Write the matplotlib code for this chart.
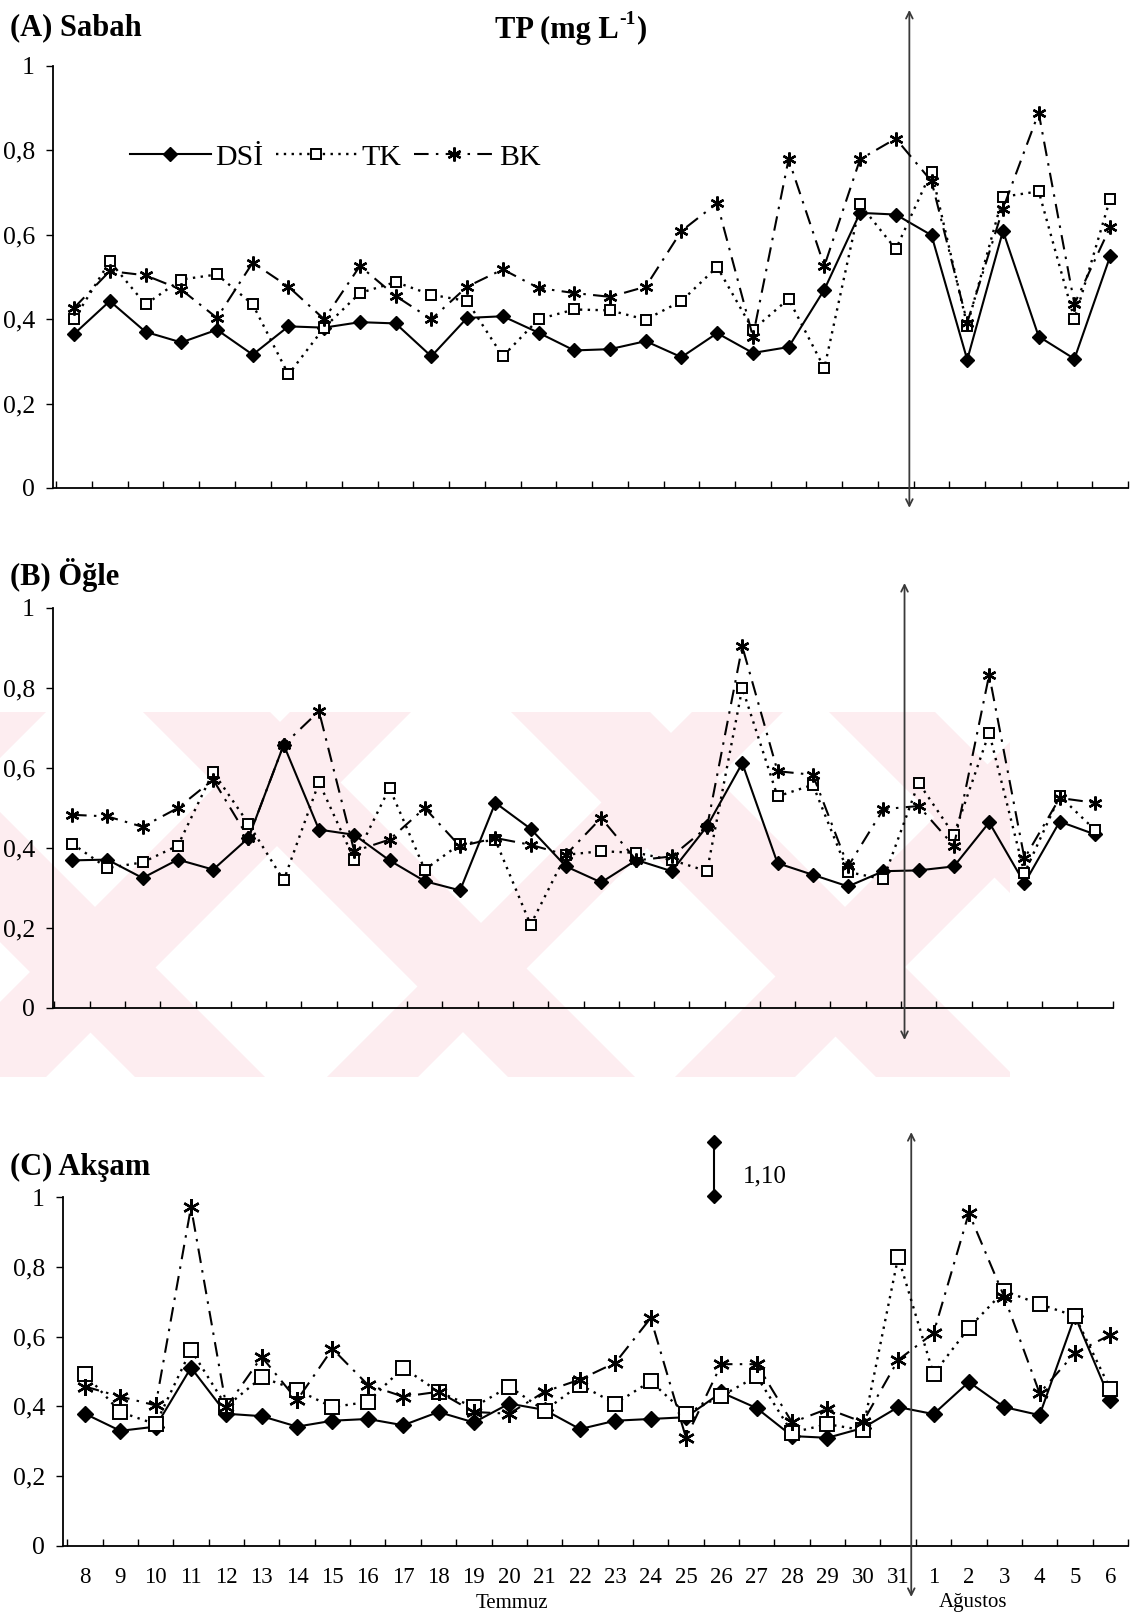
import numpy as np
import matplotlib
matplotlib.use('Agg')
import matplotlib.pyplot as plt
from matplotlib.patches import Polygon, Rectangle

plt.rcParams['font.family'] = ['Liberation Serif', 'DejaVu Serif']

# x categories: Temmuz 8-31, Agustos 1-6
days = ['8', '9', '10', '11', '12', '13', '14', '15', '16', '17', '18', '19', '20', '21',
        '22', '23', '24', '25', '26', '27', '28', '29', '30', '31', '1', '2', '3', '4', '5', '6']
y_ticks = [0, 0.2, 0.4, 0.6, 0.8, 1]
y_labels = ['0', '0,2', '0,4', '0,6', '0,8', '1']

# (A) Sabah
sabah_dsi = [0.365, 0.443, 0.370, 0.345, 0.375, 0.316, 0.383, 0.380, 0.393, 0.390, 0.312, 0.403, 0.407, 0.368,
             0.326, 0.329, 0.348, 0.310, 0.367, 0.320, 0.334, 0.470, 0.652, 0.648, 0.599, 0.304, 0.609, 0.359, 0.306, 0.549]
sabah_tk = [0.400, 0.537, 0.435, 0.494, 0.506, 0.435, 0.269, 0.380, 0.462, 0.488, 0.458, 0.443, 0.312, 0.400,
            0.423, 0.421, 0.399, 0.443, 0.524, 0.375, 0.448, 0.284, 0.672, 0.566, 0.750, 0.385, 0.690, 0.703, 0.400, 0.685]
sabah_bk = [0.427, 0.514, 0.504, 0.470, 0.403, 0.534, 0.477, 0.400, 0.526, 0.455, 0.400, 0.477, 0.518, 0.474,
            0.462, 0.453, 0.477, 0.609, 0.675, 0.359, 0.779, 0.526, 0.779, 0.828, 0.727, 0.392, 0.662, 0.889, 0.436, 0.618]

# (B) Ogle
ogle_dsi = [0.369, 0.371, 0.325, 0.371, 0.346, 0.425, 0.658, 0.446, 0.433, 0.369, 0.317, 0.294, 0.513, 0.448,
            0.354, 0.314, 0.370, 0.342, 0.454, 0.612, 0.362, 0.333, 0.304, 0.342, 0.344, 0.354, 0.464, 0.312, 0.466, 0.434]
ogle_tk = [0.411, 0.350, 0.364, 0.406, 0.590, 0.461, 0.319, 0.564, 0.371, 0.550, 0.346, 0.410, 0.420, 0.208,
           0.383, 0.392, 0.388, 0.370, 0.342, 0.800, 0.529, 0.558, 0.340, 0.322, 0.563, 0.433, 0.688, 0.337, 0.530, 0.445]
ogle_bk = [0.483, 0.479, 0.453, 0.500, 0.571, 0.425, 0.658, 0.742, 0.392, 0.421, 0.500, 0.404, 0.425, 0.408,
           0.383, 0.475, 0.369, 0.379, 0.452, 0.904, 0.592, 0.583, 0.354, 0.497, 0.505, 0.405, 0.833, 0.374, 0.525, 0.513]

# (C) Aksam
aksam_dsi = [0.379, 0.330, 0.342, 0.511, 0.379, 0.372, 0.342, 0.359, 0.364, 0.346, 0.384, 0.354, 0.408, 0.390,
             0.335, 0.359, 0.364, 0.369, 0.440, 0.395, 0.315, 0.310, 0.338, 0.398, 0.378, 0.470, 0.398, 0.375, 0.659, 0.418]
aksam_tk = [0.493, 0.384, 0.349, 0.562, 0.400, 0.483, 0.447, 0.398, 0.413, 0.511, 0.442, 0.398, 0.457, 0.388,
            0.462, 0.408, 0.472, 0.379, 0.430, 0.486, 0.325, 0.349, 0.332, 0.828, 0.493, 0.625, 0.731, 0.693, 0.659, 0.450]
aksam_bk = [0.457, 0.428, 0.403, 0.971, 0.398, 0.542, 0.418, 0.565, 0.462, 0.428, 0.442, 0.384, 0.379, 0.442,
            0.477, 0.525, 0.653, 0.310, 0.521, 0.521, 0.354, 0.393, 0.355, 0.533, 0.610, 0.954, 0.714, 0.438, 0.553, 0.605]

off_scale_text = '1,10'

W, H = 1136, 1616
fig = plt.figure(figsize=(W / 100, H / 100), dpi=100)

# faint pink watermark behind the middle panel
bg = fig.add_axes([0, 0, 1, 1], zorder=-5)
bg.set_xlim(0, W)
bg.set_ylim(H, 0)
bg.axis('off')
T, B = 712, 1077
hh = B - T
clip = Rectangle((0, T), 1010, hh, transform=bg.transData, visible=False)
bg.add_patch(clip)
pink = '#fdedf0'
for x0, x1, s in [(143, 270, 1), (290, 411, -1), (511, 650, 1), (692, 783, -1),
                  (829, 935, 1), (-80, 46, -1), (-230, -100, 1), (1040, 1160, -1)]:
    poly = Polygon([(x0, T), (x1, T), (x1 + s * hh, B), (x0 + s * hh, B)],
                   closed=True, color=pink, lw=0)
    bg.add_patch(poly)
    poly.set_clip_path(clip)


def px_axes(left, right, top, bottom):
    return fig.add_axes([left / W, 1 - bottom / H, (right - left) / W, (bottom - top) / H])


def panel(ax, dsi, tk, bk, xlim, sizes, vx, vspan, show_labels):
    x = np.arange(len(days))
    ms_d, ms_s, ms_a = sizes
    ax.set_facecolor('none')
    l1, = ax.plot(x, dsi, color='black', lw=1.5, marker='D', ms=ms_d, mfc='black', mec='black',
                  label='DSİ', zorder=3, clip_on=False)
    l2, = ax.plot(x, tk, color='black', lw=1.7, ls=(0, (1, 2.3)), marker='s', ms=ms_s, mfc='white',
                  mec='black', mew=1.4, label='TK', zorder=4, clip_on=False)
    l3, = ax.plot(x, bk, color='black', lw=1.5, ls=(0, (7, 3.5, 1.2, 3.5)), marker=(6, 2, 0), ms=ms_a,
                  mec='black', mew=1.7, label='BK', zorder=5, clip_on=False)
    ax.set_xlim(*xlim)
    ax.set_ylim(0, 1)
    for s in ['top', 'right']:
        ax.spines[s].set_visible(False)
    for s in ['left', 'bottom']:
        ax.spines[s].set_linewidth(1.3)
    ax.set_yticks(y_ticks)
    ax.set_yticklabels(y_labels, fontsize=18.5)
    ax.tick_params(axis='y', direction='out', length=5, width=1, pad=8)
    ax.set_xticks(x)
    if show_labels:
        ax.set_xticklabels(days, fontsize=16.5)
    else:
        ax.set_xticklabels([])
    ax.set_xticks(np.arange(-0.5, len(days), 1.0), minor=True)
    ax.tick_params(axis='x', which='major', length=0, pad=15)
    ax.tick_params(axis='x', which='minor', direction='in', length=5, width=1)
    ax.annotate('', xy=(vx, vspan[1]), xytext=(vx, vspan[0]), xycoords=ax.get_xaxis_transform(),
                arrowprops=dict(arrowstyle='<->', color='#3a3a3a', lw=1.3, mutation_scale=12,
                                shrinkA=0, shrinkB=0), annotation_clip=False)
    return l1, l2, l3


axA = px_axes(53, 1128, 66, 488)
hA = panel(axA, sabah_dsi, sabah_tk, sabah_bk, (-0.59, 29.45), (7.2, 7.2, 10), 23.38, (-0.047, 1.133), False)
axB = px_axes(53, 1113, 608, 1008)
panel(axB, ogle_dsi, ogle_tk, ogle_bk, (-0.54, 29.51), (7.2, 7.4, 10), 23.6, (-0.08, 1.0625), False)
axC = px_axes(63, 1128, 1197, 1546)
panel(axC, aksam_dsi, aksam_tk, aksam_bk, (-0.62, 29.5), (8.4, 10, 12), 23.37, (-0.146, 1.186), True)

axA.legend(handles=hA, ncol=3, loc='center left', bbox_to_anchor=(0.0716, 0.784), frameon=False,
           fontsize=21.5, handlelength=2.7, handletextpad=0.15, columnspacing=0.43,
           borderpad=0, borderaxespad=0)

# off-scale marker in panel C
axC.plot([17.8, 17.8], [1.003, 1.158], color='black', lw=1.5, marker='D', ms=7.5, clip_on=False)
axC.text(18.6, 1.06, off_scale_text, fontsize=18, va='center', ha='left')

fig.text(10 / W, 1 - 28 / H, '(A) Sabah', fontsize=22, fontweight='bold', ha='left', va='center')
fig.text(10 / W, 1 - 575 / H, '(B) Öğle', fontsize=22, fontweight='bold', ha='left', va='center')
fig.text(10 / W, 1 - 1167 / H, '(C) Akşam', fontsize=22, fontweight='bold', ha='left', va='center')
fig.text(512 / W, 1 - 1604 / H, 'Temmuz', fontsize=15, ha='center', va='center')
fig.text(973 / W, 1 - 1603 / H, 'Ağustos', fontsize=15, ha='center', va='center')

# TP (mg L-1) with a raised "-1"
rend = fig.canvas.get_renderer()
t1 = fig.text(495 / W, 1 - 30 / H, 'TP (mg L', fontsize=22, fontweight='bold', ha='left', va='center')
b1 = t1.get_window_extent(rend)
t2 = fig.text((b1.x1 + 1) / W, 1 - 20 / H, '-1', fontsize=14, fontweight='bold', ha='left', va='center')
b2 = t2.get_window_extent(rend)
fig.text((b2.x1 + 1) / W, 1 - 30 / H, ')', fontsize=22, fontweight='bold', ha='left', va='center')

fig.savefig('out.png', dpi=100)
